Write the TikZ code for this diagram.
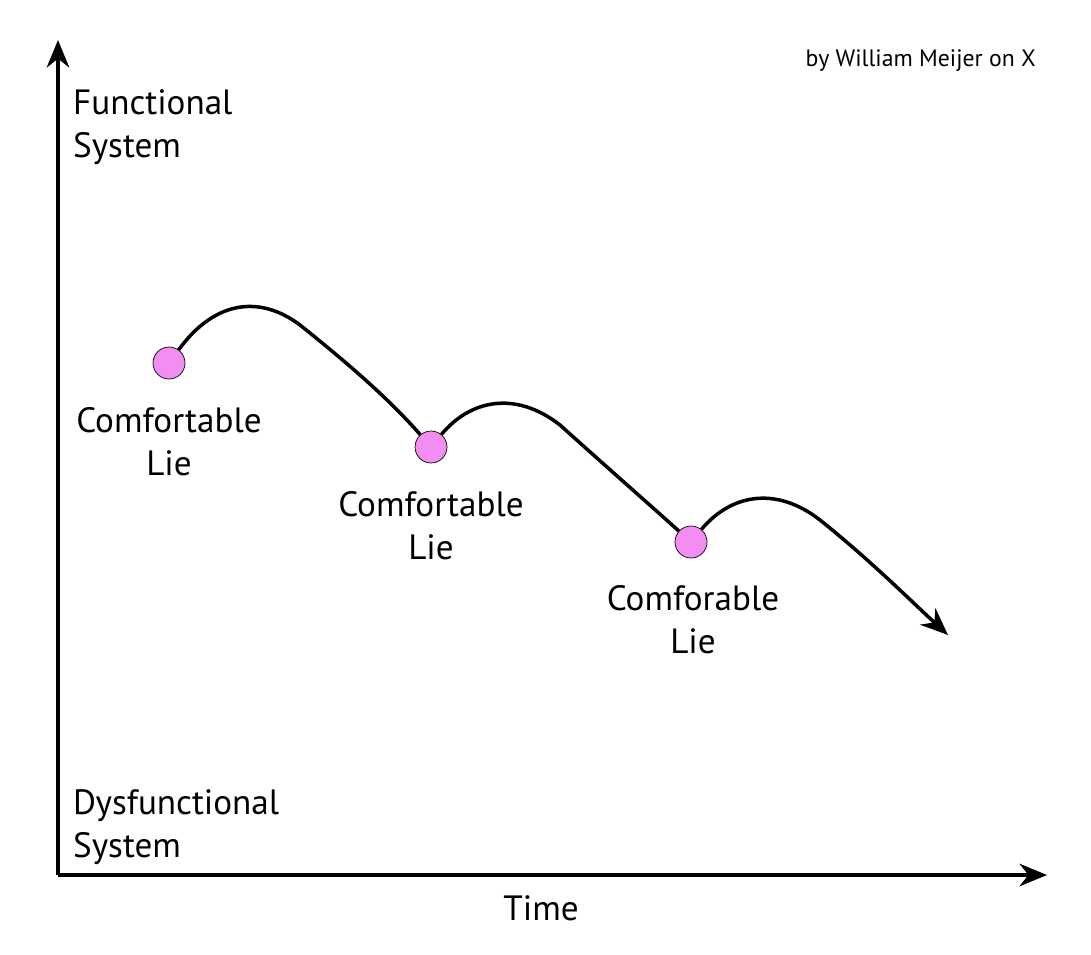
\documentclass[tikz,border=0pt]{standalone}
\usepackage{fontspec}
\setmainfont{PT Sans}
\usetikzlibrary{arrows.meta}
\definecolor{liepink}{HTML}{F28EF2}
\tikzset{
	lie/.style={circle, draw=black, fill=liepink, minimum size=0.64cm, inner sep=0pt},
	lbl/.style={font=\fontsize{20}{24.5}\selectfont, align=center},
	axis/.style={line width=2.2pt, -{Stealth[length=0.55cm, width=0.45cm]}},
	path/.style={line width=2pt}
}
\begin{document}
\begin{tikzpicture}[x=0.02cm, y=-0.02cm]
	\useasboundingbox (0,0) rectangle (1091,954);
	
	%Achse
	\coordinate (o) at (58, 875);
	\coordinate (ytop) at (58, 40);
	\coordinate (xend) at (1047, 875);
	\draw[axis] (o) -- (ytop);
	\draw[axis] (o) -- (xend);
	\node[lbl, align=left, anchor=north west] (func) at (67, 83) {Functional\\System};
	\node[lbl, align=left, anchor=north west] (dys) at (67, 783) {Dysfunctional\\System};
	\node[lbl] (time) at (541, 908) {Time};
	\node[font=\fontsize{13.5}{15}\selectfont, anchor=east] (by) at (1042, 61) {by William Meijer on X};
	
	%Punkte
	\node[lie] (l1) at (169, 363) {};
	\node[lie] (l2) at (431, 447) {};
	\node[lie] (l3) at (691, 542) {};
	\node[lbl, anchor=north] (t1) at (169, 401) {Comfortable\\Lie};
	\node[lbl, anchor=north] (t2) at (431, 485) {Comfortable\\Lie};
	\node[lbl, anchor=north] (t3) at (693, 579) {Comforable\\Lie};
	
	%Kurven
	\coordinate (end) at (948, 635);
	\draw[path] (l1) .. controls (215, 300) and (260, 295) .. (300, 325) .. controls (350, 365) and (390, 400) .. (l2);
	\draw[path] (l2) .. controls (470, 400) and (515, 390) .. (560, 425) .. controls (610, 470) and (650, 505) .. (l3);
	\draw[path, -{Stealth[length=0.55cm, width=0.45cm]}] (l3) .. controls (730, 495) and (775, 485) .. (820, 520) .. controls (870, 560) and (910, 600) .. (end);
\end{tikzpicture}
\end{document}
